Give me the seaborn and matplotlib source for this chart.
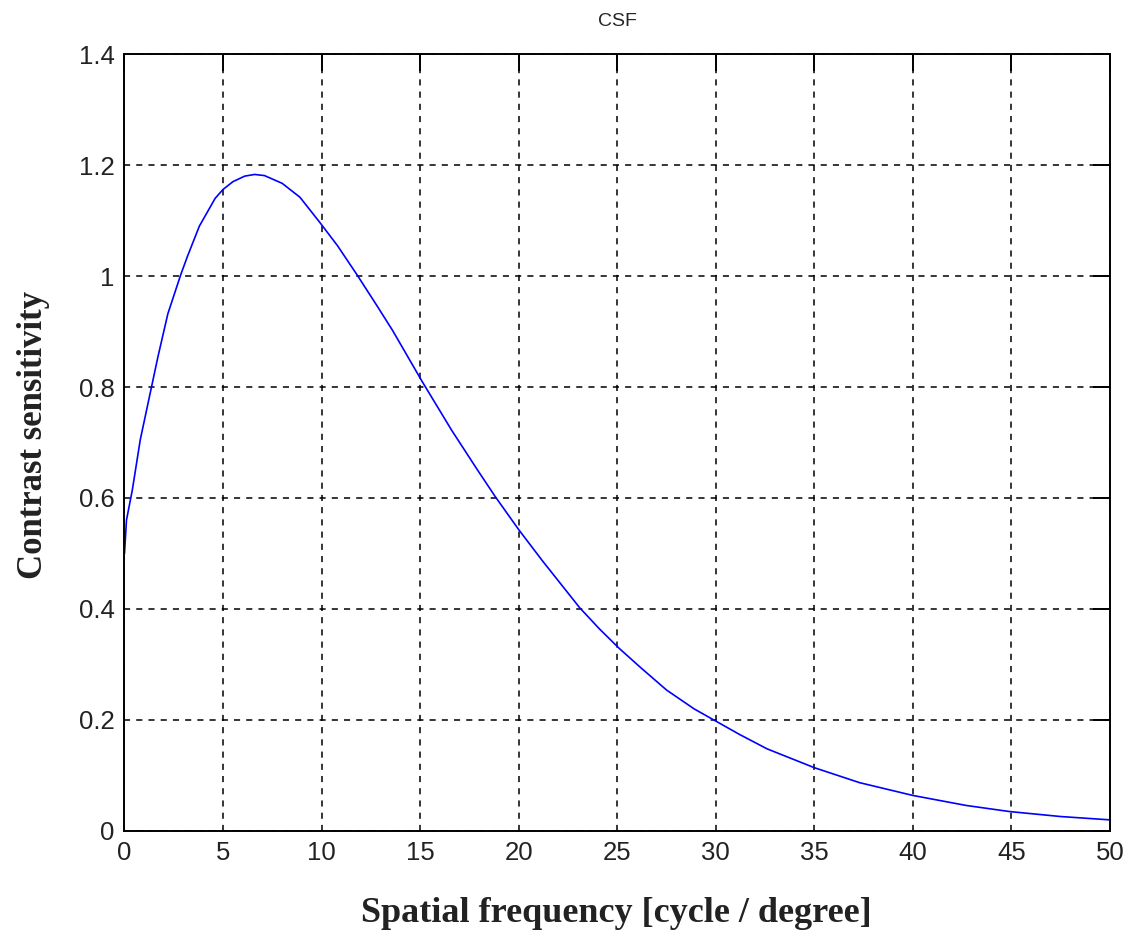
import matplotlib
matplotlib.use("Agg")
import matplotlib.pyplot as plt
import seaborn as sns

# ------------------ data ------------------
freq = [0, 0.1, 0.4, 0.8, 1.4, 1.7, 2.2, 2.85, 3.2, 3.8, 4.6, 5.0, 5.5, 6.1, 6.6,
        7.1, 8.0, 8.9, 9.9, 10.8, 11.8, 12.8, 13.6, 15.1, 16.6, 17.9, 18.8, 20.0,
        21.2, 23.1, 24.1, 25.1, 26.2, 27.5, 28.9, 30.0, 31.2, 32.6, 35.0, 37.3,
        40.0, 42.7, 44.9, 47.5, 50.0]
sens = [0.50, 0.56, 0.615, 0.705, 0.805, 0.855, 0.932, 1.002, 1.036, 1.090, 1.140, 1.156,
        1.170, 1.180, 1.183, 1.181, 1.167, 1.142, 1.097, 1.055, 1.002, 0.947, 0.902,
        0.810, 0.722, 0.651, 0.603, 0.543, 0.487, 0.402, 0.364, 0.329, 0.294, 0.254,
        0.220, 0.198, 0.174, 0.148, 0.114, 0.087, 0.064, 0.046, 0.035, 0.026, 0.020]

x_ticks = [0, 5, 10, 15, 20, 25, 30, 35, 40, 45, 50]
y_ticks = [0, 0.2, 0.4, 0.6, 0.8, 1.0, 1.2, 1.4]
y_tick_labels = ["0", "0.2", "0.4", "0.6", "0.8", "1", "1.2", "1.4"]

# ------------------ style ------------------
sns.set_style("white")
plt.rcParams["font.family"] = ["Liberation Sans", "DejaVu Sans"]

fig = plt.figure(figsize=(11.38, 9.43), dpi=100)
ax = fig.add_axes([0.1094, 0.1188, 0.866, 0.8239])

sns.lineplot(x=freq, y=sens, color="#0000ff", linewidth=1.2, ax=ax)

ax.set_xlim(0, 50)
ax.set_ylim(0, 1.4)
ax.set_xticks(x_ticks)
ax.set_yticks(y_ticks)
ax.set_yticklabels(y_tick_labels)

ax.grid(True, color="black", linestyle=(0, (4, 4)), linewidth=1.1)
ax.set_axisbelow(True)

for sp in ax.spines.values():
    sp.set_visible(True)
    sp.set_color("black")
    sp.set_linewidth(1.4)

ax.tick_params(axis="both", which="major", direction="in", length=12, width=1.4,
               top=True, right=True, labelsize=18.5, pad=7, colors="black")
for lab in ax.get_xticklabels() + ax.get_yticklabels():
    lab.set_color("#222222")

ax.set_title("CSF", fontsize=14, pad=20)
fig.text(0.542, 0.031, "Spatial frequency [cycle / degree]", ha="center", va="center",
         fontsize=26, fontweight="bold", family=["Liberation Serif", "DejaVu Serif"],
         color="#222222")
fig.text(0.029, 0.539, "Contrast sensitivity", ha="center", va="center", rotation=90,
         fontsize=25, fontweight="bold", family=["Liberation Serif", "DejaVu Serif"],
         color="#222222")

fig.savefig("out.png", dpi=100, facecolor="white")
plt.close(fig)
